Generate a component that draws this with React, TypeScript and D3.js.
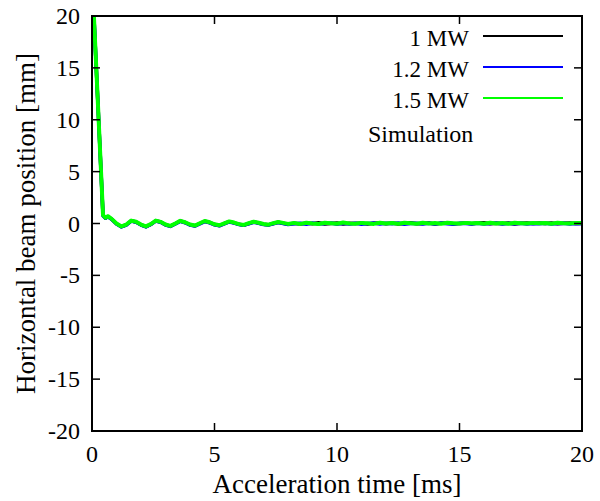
import React from "react";
import * as d3 from "d3";

const timeMs = [0, 0.45, 0.55, 0.65, 0.8, 1.0, 1.2, 1.4, 1.6, 1.8, 2.0, 2.2, 2.4, 2.6, 2.8, 3.0, 3.2, 3.4, 3.6, 3.8, 4.0, 4.2, 4.4, 4.6, 4.8, 5.0, 5.2, 5.4, 5.6, 5.8, 6.0, 6.2, 6.4, 6.6, 6.8, 7.0, 7.2, 7.4, 7.6, 7.8, 8.0,
  8.25, 8.5, 8.75, 9.0, 9.25, 9.5, 9.75, 10.0, 10.25, 10.5, 10.75, 11.0, 11.25, 11.5, 11.75, 12.0, 12.25, 12.5, 12.75, 13.0, 13.25, 13.5, 13.75, 14.0, 14.25, 14.5, 14.75, 15.0, 15.25, 15.5, 15.75, 16.0, 16.25, 16.5, 16.75, 17.0, 17.25, 17.5, 17.75, 18.0, 18.25, 18.5, 18.75, 19.0, 19.25, 19.5, 19.75, 20.0];

const pos1MW = [24, 0.78, 0.52, 0.68, 0.42, -0.02, -0.3, -0.12, 0.26, 0.15, -0.12, -0.3, -0.08, 0.26, 0.14, -0.12, -0.25, -0.02, 0.24, 0.1, -0.12, -0.22, 0.0, 0.22, 0.1, -0.1, -0.2, 0.0, 0.18, 0.06, -0.08, -0.16, 0.0, 0.15, 0.05, -0.07, -0.13, 0.0, 0.12, 0.03, -0.06,
  0.02, -0.06, 0.05, -0.02, 0.07, -0.04, 0.0, 0.06, -0.05, 0.03, 0.0, 0.05, -0.06, 0.02, 0.06, -0.03, 0.04, -0.05, 0.03, 0.07, -0.02, 0.01, 0.05, -0.04, 0.03, 0.06, -0.03, 0.0, 0.05, -0.02, 0.04, 0.07, -0.03, 0.02, 0.0, 0.05, -0.04, 0.03, 0.06, -0.01, 0.04, 0.0, 0.06, -0.02, 0.03, 0.05, -0.01, 0.02];

const pos12MW = [24, 0.75, 0.5, 0.65, 0.4, -0.05, -0.33, -0.15, 0.23, 0.12, -0.15, -0.33, -0.1, 0.23, 0.12, -0.15, -0.28, -0.05, 0.2, 0.07, -0.15, -0.25, -0.03, 0.18, 0.06, -0.12, -0.22, -0.03, 0.15, 0.04, -0.1, -0.18, -0.02, 0.12, 0.02, -0.1, -0.15, -0.02, 0.09, 0.0, -0.09,
  -0.02, 0.03, -0.08, 0.04, -0.06, -0.01, 0.05, -0.07, 0.02, -0.04, 0.03, -0.08, 0.01, 0.04, -0.06, 0.02, -0.03, 0.05, -0.07, 0.0, 0.03, -0.05, 0.02, -0.06, 0.04, -0.02, -0.07, 0.03, -0.01, -0.05, 0.02, -0.06, 0.01, 0.04, -0.05, 0.0, -0.03, 0.03, -0.06, 0.01, -0.02, 0.03, -0.05, 0.0, 0.02, -0.04, 0.01, -0.03];

const pos15MW = [24, 0.8, 0.55, 0.7, 0.45, 0.0, -0.28, -0.1, 0.28, 0.17, -0.1, -0.28, -0.05, 0.28, 0.16, -0.1, -0.23, 0.0, 0.26, 0.12, -0.1, -0.2, 0.02, 0.24, 0.12, -0.08, -0.17, 0.02, 0.2, 0.09, -0.06, -0.14, 0.03, 0.17, 0.07, -0.05, -0.11, 0.03, 0.14, 0.06, -0.04,
  0.06, -0.04, 0.08, 0.0, -0.05, 0.07, 0.02, -0.03, 0.09, 0.01, -0.02, 0.06, 0.03, -0.04, 0.08, 0.0, 0.05, -0.03, 0.07, 0.02, -0.02, 0.08, 0.01, 0.04, -0.03, 0.07, 0.03, -0.01, 0.06, 0.02, 0.05, -0.03, 0.08, 0.01, 0.04, -0.02, 0.07, 0.03, 0.0, 0.06, 0.02, 0.05, -0.02, 0.07, 0.03, 0.01, 0.06, 0.04];

const seriesNames = ["1 MW", "1.2 MW", "1.5 MW"];
const seriesColors = ["#000000", "#0000ff", "#00ff00"];
const seriesValues = [pos1MW, pos12MW, pos15MW];

const xTicks = [0, 5, 10, 15, 20];
const yTicks = [-20, -15, -10, -5, 0, 5, 10, 15, 20];

const W = 600;
const H = 501;
const L = 92;
const R = 582;
const T = 16;
const B = 431;
const fam = "Liberation Serif";

export default function App() {
  const x = d3.scaleLinear().domain([0, 20]).range([L, R]);
  const y = d3.scaleLinear().domain([-20, 20]).range([B, T]);
  const line = d3
    .line<number>()
    .x((_, i) => x(timeMs[i]))
    .y((d) => y(d));
  const tickLen = 8;

  return (
    <svg width={W} height={H} style={{ position: "absolute", left: 0, top: 0 }}>
      <defs>
        <clipPath id="plotclip">
          <rect x={L} y={T} width={R - L} height={B - T} />
        </clipPath>
      </defs>
      <g clipPath="url(#plotclip)">
        {seriesValues.map((vals, k) => (
          <path
            key={k}
            d={line(vals) || ""}
            fill="none"
            stroke={seriesColors[k]}
            strokeWidth={k === 2 ? 4 : 3.5}
            strokeLinejoin="round"
          />
        ))}
      </g>
      {xTicks.map((t) => (
        <g key={"x" + t}>
          <line x1={x(t)} x2={x(t)} y1={B} y2={B - tickLen} stroke="#000" strokeWidth={1.5} />
          <line x1={x(t)} x2={x(t)} y1={T} y2={T + tickLen} stroke="#000" strokeWidth={1.5} />
          <text x={x(t)} y={462} textAnchor="middle" fontSize={24} style={{ fontFamily: `"${fam}"` }}>
            {`${t}`}
          </text>
        </g>
      ))}
      {yTicks.map((t) => (
        <g key={"y" + t}>
          <line x1={L} x2={L + tickLen} y1={y(t)} y2={y(t)} stroke="#000" strokeWidth={1.5} />
          <line x1={R} x2={R - tickLen} y1={y(t)} y2={y(t)} stroke="#000" strokeWidth={1.5} />
          <text x={80} y={y(t) + 8} textAnchor="end" fontSize={24} style={{ fontFamily: `"${fam}"` }}>
            {`${t}`}
          </text>
        </g>
      ))}
      <rect x={L} y={T} width={R - L} height={B - T} fill="none" stroke="#000" strokeWidth={2} />
      {seriesNames.map((n, k) => (
        <g key={n}>
          <text x={469} y={46 + k * 31} textAnchor="end" fontSize={23} style={{ fontFamily: `"${fam}"` }}>
            {`${n}`}
          </text>
          <line x1={483} x2={563} y1={36 + k * 31} y2={36 + k * 31} stroke={seriesColors[k]} strokeWidth={2} />
        </g>
      ))}
      <text x={368} y={142} fontSize={24} style={{ fontFamily: `"${fam}"` }}>
        {"Simulation"}
      </text>
      <text x={(L + R) / 2} y={493} textAnchor="middle" fontSize={27} style={{ fontFamily: `"${fam}"` }}>
        {"Acceleration time [ms]"}
      </text>
      <text
        transform={`translate(35, ${(T + B) / 2}) rotate(-90)`}
        textAnchor="middle"
        fontSize={27}
        style={{ fontFamily: `"${fam}"` }}
      >
        {"Horizontal beam position [mm]"}
      </text>
    </svg>
  );
}
